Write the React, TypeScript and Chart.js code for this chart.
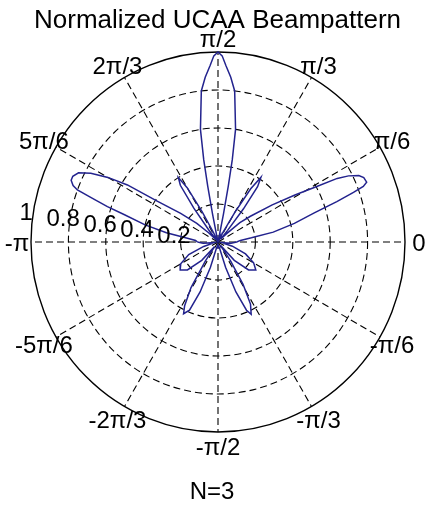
import { useEffect, useRef } from "react";
import { Chart, registerables } from "chart.js";

Chart.register(...registerables);

// Beam pattern samples: direction (degrees) and normalized magnitude
const beamAngleDeg = [
  -180, -175, -170, -163, -157, -150, -144, -138, -132, -127,
  -124, -121, -118, -116, -113, -110, -107, -104, -98, -90,
  -82, -76, -73, -70, -67, -65, -62, -59, -56, -53,
  -48, -42, -36, -30, -23, -16, -10, -5, 0, 4,
  7, 10, 13.5, 16.6, 18.5, 19.8, 20.6, 21.6, 23.5, 24.9,
  26.5, 27.7, 29, 31, 34, 38, 41, 44, 47, 50,
  52, 54, 56, 58, 60, 62, 64, 70, 76, 78,
  78.8, 79.4, 80, 81, 83.6, 85.5, 87.4, 88.7, 90, 91.3,
  92.6, 94.5, 96.4, 99, 100, 100.6, 101.2, 102, 108, 114,
  116, 118, 120, 122, 124, 126, 128, 130, 133, 136,
  139, 143, 146.5, 148.2, 150, 152, 154, 156, 157.5, 159,
  160, 161, 162.5, 164, 167, 170, 173, 176, 180,
];
const beamMagnitude = [
  0.11, 0.08, 0.02, 0.08, 0.17, 0.23, 0.25, 0.22, 0.13, 0.03,
  0.12, 0.28, 0.38, 0.42, 0.39, 0.28, 0.14, 0.03, 0.02, 0.03,
  0.02, 0.03, 0.14, 0.28, 0.39, 0.42, 0.37, 0.26, 0.12, 0.02,
  0.13, 0.22, 0.25, 0.22, 0.16, 0.08, 0.02, 0.07, 0.1, 0.12,
  0.18, 0.3, 0.42, 0.54, 0.67, 0.77, 0.83, 0.855, 0.85, 0.83,
  0.78, 0.72, 0.6, 0.48, 0.35, 0.22, 0.155, 0.06, 0.02, 0.08,
  0.22, 0.36, 0.41, 0.33, 0.18, 0.06, 0.01, 0.02, 0.01, 0.02,
  0.15, 0.3, 0.44, 0.6, 0.8, 0.87, 0.93, 0.98, 1.0, 0.98,
  0.93, 0.87, 0.8, 0.6, 0.44, 0.3, 0.15, 0.02, 0.01, 0.02,
  0.06, 0.18, 0.33, 0.4, 0.36, 0.22, 0.08, 0.01, 0.03, 0.07,
  0.15, 0.25, 0.39, 0.57, 0.68, 0.77, 0.83, 0.85, 0.85, 0.83,
  0.8, 0.72, 0.62, 0.52, 0.4, 0.28, 0.17, 0.12, 0.11,
];

// Polar grid
const ringValues = [0.2, 0.4, 0.6, 0.8];
const ringTickValues = [0.2, 0.4, 0.6, 0.8, 1];
const ringTickLabels = ["0.2", "0.4", "0.6", "0.8", "1"];
const spokeAngleDeg = [0, 30, 60, 90, 120, 150, 180, 210, 240, 270, 300, 330];
const spokeLabels = ["0", "π/6", "π/3", "π/2", "2π/3", "5π/6", "-π", "-5π/6", "-2π/3", "-π/2", "-π/3", "-π/6"];

const titleText = "Normalized UCAA Beampattern";
const xLabelText = "N=3";

const FONT = "'Liberation Sans', Arial, sans-serif";
const DEG = Math.PI / 180;

const polarFrame = {
  id: "polarFrame",
  beforeDatasetsDraw(chart: any) {
    const { ctx, scales } = chart;
    const xs = scales.x;
    const ys = scales.y;
    const cx = xs.getPixelForValue(0);
    const cy = ys.getPixelForValue(0);
    const rx = (r: number) => xs.getPixelForValue(r) - cx;
    const ry = (r: number) => cy - ys.getPixelForValue(r);

    ctx.save();
    ctx.strokeStyle = "#000";
    ctx.lineWidth = 1.1;
    ctx.setLineDash([7, 4]);
    for (const r of ringValues) {
      ctx.beginPath();
      ctx.ellipse(cx, cy, rx(r), ry(r), 0, 0, Math.PI * 2);
      ctx.stroke();
    }
    for (const a of spokeAngleDeg) {
      ctx.beginPath();
      ctx.moveTo(cx, cy);
      ctx.lineTo(xs.getPixelForValue(Math.cos(a * DEG)), ys.getPixelForValue(Math.sin(a * DEG)));
      ctx.stroke();
    }
    ctx.setLineDash([]);
    ctx.lineWidth = 1.4;
    ctx.beginPath();
    ctx.ellipse(cx, cy, rx(1), ry(1), 0, 0, Math.PI * 2);
    ctx.stroke();
    ctx.restore();
  },
  afterDraw(chart: any) {
    const { ctx, scales, width } = chart;
    const xs = scales.x;
    const ys = scales.y;
    ctx.save();
    ctx.fillStyle = "#000";
    ctx.textAlign = "center";

    // title and axis caption
    ctx.textBaseline = "alphabetic";
    ctx.font = `26px ${FONT}`;
    ctx.fillText(titleText, width / 2 + 3, 28);
    ctx.font = `24px ${FONT}`;
    ctx.fillText(xLabelText, 212, 499);

    // angle labels around the rim
    ctx.textBaseline = "middle";
    spokeAngleDeg.forEach((a, i) => {
      const lx = xs.getPixelForValue(1.075 * Math.cos(a * DEG));
      const ly = ys.getPixelForValue(1.075 * Math.sin(a * DEG)) + 2.5;
      ctx.fillText(spokeLabels[i], lx, ly);
    });

    // radial tick labels, just above the -π spoke
    const tickAngle = 171.4 * DEG;
    ringTickValues.forEach((r, i) => {
      const lx = xs.getPixelForValue(r * Math.cos(tickAngle)) - 7;
      const ly = ys.getPixelForValue(r * Math.sin(tickAngle));
      ctx.fillText(ringTickLabels[i], lx, ly);
    });
    ctx.restore();
  },
};

export default function App() {
  const canvasRef = useRef<HTMLCanvasElement | null>(null);

  useEffect(() => {
    const canvas = canvasRef.current;
    if (!canvas) return;
    const points = beamAngleDeg.map((a, i) => ({
      x: beamMagnitude[i] * Math.cos(a * DEG),
      y: beamMagnitude[i] * Math.sin(a * DEG),
    }));
    const chart = new Chart(canvas, {
      type: "scatter",
      data: {
        datasets: [
          {
            data: points,
            showLine: true,
            pointRadius: 0,
            borderColor: "#23238e",
            borderWidth: 1.5,
            tension: 0,
            clip: false,
          } as any,
        ],
      },
      options: {
        responsive: false,
        animation: false,
        devicePixelRatio: 1,
        layout: { padding: { left: 31, right: 24, top: 52, bottom: 76 } },
        scales: {
          x: { type: "linear", min: -1, max: 1, display: false },
          y: { type: "linear", min: -1, max: 1, display: false },
        },
        plugins: {
          legend: { display: false },
          tooltip: { enabled: false },
          title: { display: false },
        },
      },
      plugins: [polarFrame],
    });
    return () => chart.destroy();
  }, []);

  return (
    <div style={{ position: "fixed", left: 0, top: 0, width: 429, height: 508, background: "#fff" }}>
      <canvas ref={canvasRef} width={429} height={508} style={{ display: "block" }} />
    </div>
  );
}
